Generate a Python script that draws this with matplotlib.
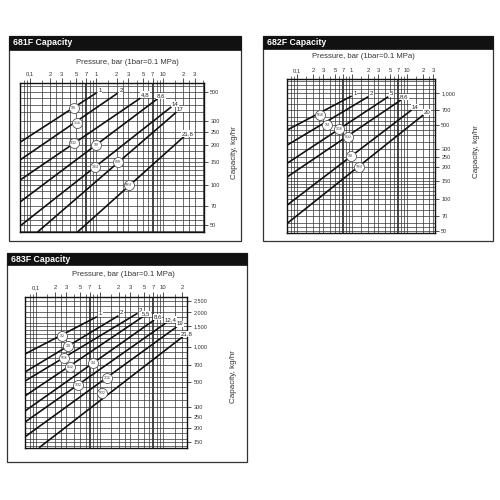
import matplotlib
matplotlib.use('Agg')
import matplotlib.pyplot as plt
from matplotlib.patches import Rectangle
from matplotlib.ticker import NullFormatter

plt.rcParams['font.family'] = ['Liberation Sans', 'DejaVu Sans']

# -------------------------------------------------------------------------------------------------------------------- #
# DATA  (pressure in bar, capacity in kg/hr)

# 681F
p681_lo = [0.0707, 0.0707, 0.0707, 0.0707, 0.0707, 0.130, 0.518]
c681_lo = [209, 154, 109, 74.7, 49.4, 44.6, 44.6]
p681_hi = [1.0, 2.07, 4.75, 8.27, 13.4, 16.0, 21.0]
c681_hi = [490, 486, 453, 442, 385, 352, 232]
lab681 = ['1', '2', '4,8', '8,6', '14', '17', '21,8']
orf681_p = [0.451, 0.506, 0.451, 0.99, 0.956, 2.09, 3.06]
orf681_c = [380, 289, 205, 199, 137, 149, 100]
orf681 = ['1/8', '3/16', '5/32', '1/8', '7/64', '#38', '5/64']
ytick681 = [50, 70, 100, 150, 200, 250, 300, 500]
ylab681 = ['50', '70', '100', '150', '200', '250', '300', '500']

# 682F
p682_lo = [0.0675, 0.0675, 0.0675, 0.0675, 0.0675, 0.0675]
c682_lo = [451, 325, 219, 163, 88.4, 59.4]
p682_hi = [1.0, 2.0, 4.63, 7.88, 12.3, 20.0]
c682_hi = [943, 929, 929, 865, 696, 624]
lab682 = ['1', '2', '5', '8,6', '14', '20']
orf682_p = [0.265, 0.36, 0.588, 0.867, 0.96, 1.37]
orf682_c = [624, 502, 458, 385, 256, 203]
orf682 = ['5/16', '1/4', '3/16', '5/32', '1/8', '7/64']
ytick682 = [50, 70, 100, 150, 200, 250, 300, 500, 700, 1000]
ylab682 = ['50', '70', '100', '150', '200', '250', '300', '500', '700', '1,000']

# 683F
p683_lo = [0.0672, 0.0672, 0.0672, 0.0672, 0.0672, 0.0672, 0.0672, 0.112]
c683_lo = [865, 605, 506, 376, 279, 224, 167, 134.6]
p683_hi = [0.904, 1.97, 3.92, 4.77, 7.17, 11.35, 16.3, 20.2]
c683_hi = [1814, 1850, 1941, 1814, 1699, 1623, 1487, 1220]
lab683 = ['1', '2', '3', '5,5', '8,6', '12,4', '19', '21,8']
orf683_p = [0.255, 0.317, 0.28, 0.344, 0.80, 0.465, 1.30, 1.106]
orf683_c = [1244, 1020, 794, 664, 719, 468, 541, 397]
orf683 = ['1/2', '3/8', '5/16', '9/32', '1/4', '7/32', '3/16', '5/32']
ytick683 = [150, 200, 250, 300, 500, 700, 1000, 1500, 2000, 2500]
ylab683 = ['150', '200', '250', '300', '500', '700', '1,000', '1,500', '2,000', '2,500']

xtick = [0.1, 0.2, 0.3, 0.5, 0.7, 1, 2, 3, 5, 7, 10, 20, 30]
xlab = ['0,1', '2', '3', '5', '7', '1', '2', '3', '5', '7', '10', '2', '3']
grid_p = [0.08, 0.09, 0.1, 0.15, 0.2, 0.25, 0.3, 0.4, 0.5, 0.6, 0.7, 0.8, 0.9,
          1, 1.5, 2, 2.5, 3, 4, 5, 6, 7, 8, 9, 10, 15, 20, 25, 30, 40]
grid_mant = [1, 1.1, 1.2, 1.3, 1.4, 1.5, 1.6, 1.8, 2, 2.25, 2.5, 3, 3.5, 4, 4.5, 5, 5.5, 6, 7, 8, 9]

# -------------------------------------------------------------------------------------------------------------------- #
# LAYOUT (pixels on a 500x500 canvas)

W = H = 500.0
fig = plt.figure(figsize=(5, 5), dpi=100)
fig.patch.set_facecolor('white')


def fx(x):
    return x / W


def fy(y):
    return 1 - y / H


def panel(box, bar, plot, xlim, ylim, title, ylab_pos, xlab_pos,
          p_lo, c_lo, p_hi, c_hi, labels, orf_p, orf_c, orf_lab, yticks, ylabels, xmax_tick):
    x0, y0, x1, y1 = box
    fig.patches.append(Rectangle((fx(x0), fy(y1)), fx(x1 - x0), (y1 - y0) / H, transform=fig.transFigure,
                                 fill=False, ec='#333333', lw=0.9))
    fig.patches.append(Rectangle((fx(x0), fy(bar)), fx(x1 - x0), (bar - y0) / H, transform=fig.transFigure,
                                 fc='#111111', ec='#111111', lw=0.5))
    fig.text(fx(x0 + 4), fy((y0 + bar) / 2), title, color='white', fontsize=6.3, fontweight='bold',
             ha='left', va='center')

    px0, py0, px1, py1 = plot
    ax = fig.add_axes([fx(px0), fy(py1), fx(px1 - px0), (py1 - py0) / H])
    ax.set_xscale('log')
    ax.set_yscale('log')
    ax.set_xlim(xlim)
    ax.set_ylim(ylim)

    for p in grid_p:
        if xlim[0] < p < xlim[1]:
            heavy = p in (0.7, 7)
            ax.axvline(p, color='#111111' if heavy else '#333333', lw=1.1 if heavy else 0.5, zorder=1)
    for k in range(1, 4):
        for m in grid_mant:
            v = m * 10 ** k
            if ylim[0] < v < ylim[1]:
                ax.axhline(v, color='#333333', lw=0.5, zorder=1)

    for i in range(len(labels)):
        ax.plot([p_lo[i], p_hi[i]], [c_lo[i], c_hi[i]], color='#111111', lw=1.2, zorder=3,
                solid_capstyle='butt')
        ax.annotate(labels[i], (p_hi[i], c_hi[i]), xytext=(2.5, 2), textcoords='offset points',
                    fontsize=4.4, ha='center', va='center', color='#222222', zorder=4,
                    bbox=dict(boxstyle='square,pad=0.1', fc='white', ec='none'))

    # orifice markers: white circles of one size with the size written inside
    ax.plot(orf_p, orf_c, 'o', ms=7.2, mfc='white', mec='#555555', mew=0.6, zorder=5, ls='none')
    for i in range(len(orf_lab)):
        ax.text(orf_p[i], orf_c[i], orf_lab[i], fontsize=2.5, ha='center', va='center', color='#333333',
                zorder=6)

    ax.xaxis.tick_top()
    ticks = [t for t in xtick if t <= xmax_tick]
    ax.set_xticks(ticks, xlab[:len(ticks)])
    ax.set_xticks([p for p in grid_p if xlim[0] < p < xlim[1] and p not in ticks], minor=True)
    ax.xaxis.set_minor_formatter(NullFormatter())
    ax.tick_params(axis='x', which='major', length=3.5, width=0.6, pad=1, labelsize=4.2, colors='#333333')
    ax.tick_params(axis='x', which='minor', length=2, width=0.5, colors='#333333')

    ax.yaxis.tick_right()
    ax.set_yticks(yticks, ylabels)
    ax.set_yticks([], minor=True)
    ax.tick_params(axis='y', which='major', length=3, width=0.6, pad=1.5, labelsize=4.0, colors='#333333')

    for s in ax.spines.values():
        s.set_linewidth(1.0)
        s.set_color('#111111')

    fig.text(fx(xlab_pos[0]), fy(xlab_pos[1]), 'Pressure, bar (1bar=0.1 MPa)', fontsize=5.6,
             ha='center', va='center', color='#333333')
    fig.text(fx(ylab_pos[0]), fy(ylab_pos[1]), 'Capacity, kg/hr', fontsize=5.8, rotation=90,
             ha='center', va='center', color='#333333')


panel((9, 36, 241, 241), 49.5, (20, 83, 204, 232), (0.0707, 41.4), (44.6, 580), '681F Capacity',
      (235, 153), (127, 62), p681_lo, c681_lo, p681_hi, c681_hi, lab681, orf681_p, orf681_c, orf681,
      ytick681, ylab681, 30)
panel((263, 36, 493, 241), 48.5, (287.3, 79.3, 435, 233.3), (0.0675, 32.7), (47.8, 1355), '682F Capacity',
      (476.7, 151.7), (363, 56.7), p682_lo, c682_lo, p682_hi, c682_hi, lab682, orf682_p, orf682_c, orf682,
      ytick682, ylab682, 30)
panel((7, 253, 247, 462), 265, (25, 296.7, 187.3, 447.7), (0.0672, 23.8), (134.6, 2700), '683F Capacity',
      (233.3, 376.7), (123.3, 274.3), p683_lo, c683_lo, p683_hi, c683_hi, lab683, orf683_p, orf683_c, orf683,
      ytick683, ylab683, 20)

fig.savefig('out.png', dpi=100, facecolor='white')
